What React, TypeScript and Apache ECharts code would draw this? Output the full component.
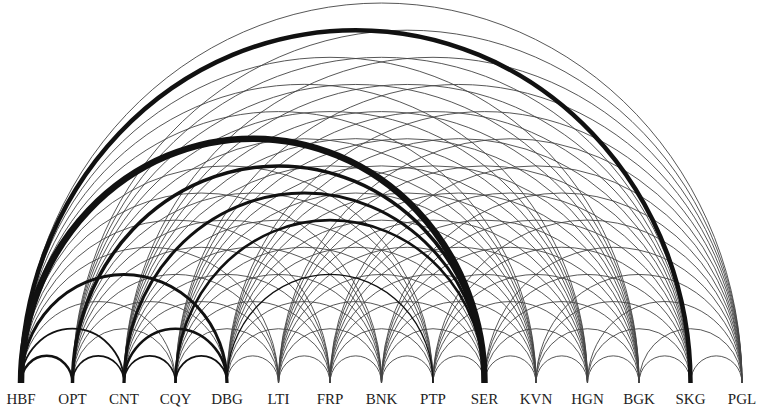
import React, { useEffect, useRef } from "react";
import * as echarts from "echarts";

const nodes = ["HBF", "OPT", "CNT", "CQY", "DBG", "LTI", "FRP", "BNK", "PTP", "SER", "KVN", "HGN", "BGK", "SKG", "PGL"];

// Heavier links: [source, target, stroke width]; all other pairs are linked with a thin arc
const strongLinks: [string, string, number][] = [
  ["HBF", "SER", 6.5],
  ["HBF", "SKG", 4.5],
  ["OPT", "SER", 3.5],
  ["CNT", "SER", 3],
  ["CQY", "SER", 2.6],
  ["HBF", "DBG", 3],
  ["CNT", "DBG", 2.6],
  ["HBF", "OPT", 2.5],
  ["HBF", "CNT", 1.8],
  ["OPT", "CNT", 1.6],
  ["CNT", "CQY", 1.6],
  ["CQY", "DBG", 1.8],
  ["DBG", "PTP", 1.3],
];

const thinWidth = 0.9;

export default function App() {
  const ref = useRef<HTMLDivElement>(null);
  useEffect(() => {
    if (!ref.current) return;
    const chart = echarts.init(ref.current, null, { renderer: "svg" });
    const strong = new Map<string, number>();
    strongLinks.forEach(([a, b, w]) => strong.set(a + "-" + b, w));
    const thin: number[][] = [];
    const heavy: number[][] = [];
    for (let i = 0; i < nodes.length; i++) {
      for (let j = i + 1; j < nodes.length; j++) {
        const key = nodes[i] + "-" + nodes[j];
        if (strong.has(key)) heavy.push([i, j, strong.get(key) as number]);
        else thin.push([i, j, thinWidth]);
      }
    }
    heavy.sort((a, b) => a[2] - b[2]);
    const renderItem = (color: string) => (params: any, api: any) => {
      const i = api.value(0);
      const j = api.value(1);
      const w = api.value(2);
      const p1 = api.coord([i, 0]);
      const p2 = api.coord([j, 0]);
      const rx = (p2[0] - p1[0]) / 2;
      const ry = rx * 1.054;
      const y = p1[1];
      return {
        type: "path",
        shape: {
          pathData: `M${p1[0]} ${y} A${rx} ${ry} 0 0 1 ${p2[0]} ${y}`,
        },
        style: { fill: "none", stroke: color, lineWidth: w },
      };
    };
    chart.setOption({
      animation: false,
      backgroundColor: "#ffffff",
      grid: { left: 21, right: 21, top: 0, bottom: 26 },
      xAxis: {
        type: "category",
        data: nodes,
        boundaryGap: false,
        axisLine: { show: false },
        axisTick: { show: false },
        splitLine: { show: false },
        axisLabel: {
          interval: 0,
          margin: 8,
          fontFamily: "Liberation Serif, DejaVu Serif, serif",
          fontSize: 15,
          color: "#222",
        },
      },
      yAxis: { type: "value", min: 0, max: 1, show: false },
      series: [
        {
          type: "custom",
          clip: false,
          silent: true,
          encode: { x: 0, y: 2 },
          data: thin,
          renderItem: renderItem("#444444"),
        },
        {
          type: "custom",
          clip: false,
          silent: true,
          encode: { x: 0, y: 2 },
          data: heavy,
          renderItem: renderItem("#111111"),
        },
      ],
    });
    return () => chart.dispose();
  }, []);
  return (
    <div
      ref={ref}
      style={{ position: "fixed", left: 0, top: 0, width: 763, height: 409, background: "#fff" }}
    />
  );
}
